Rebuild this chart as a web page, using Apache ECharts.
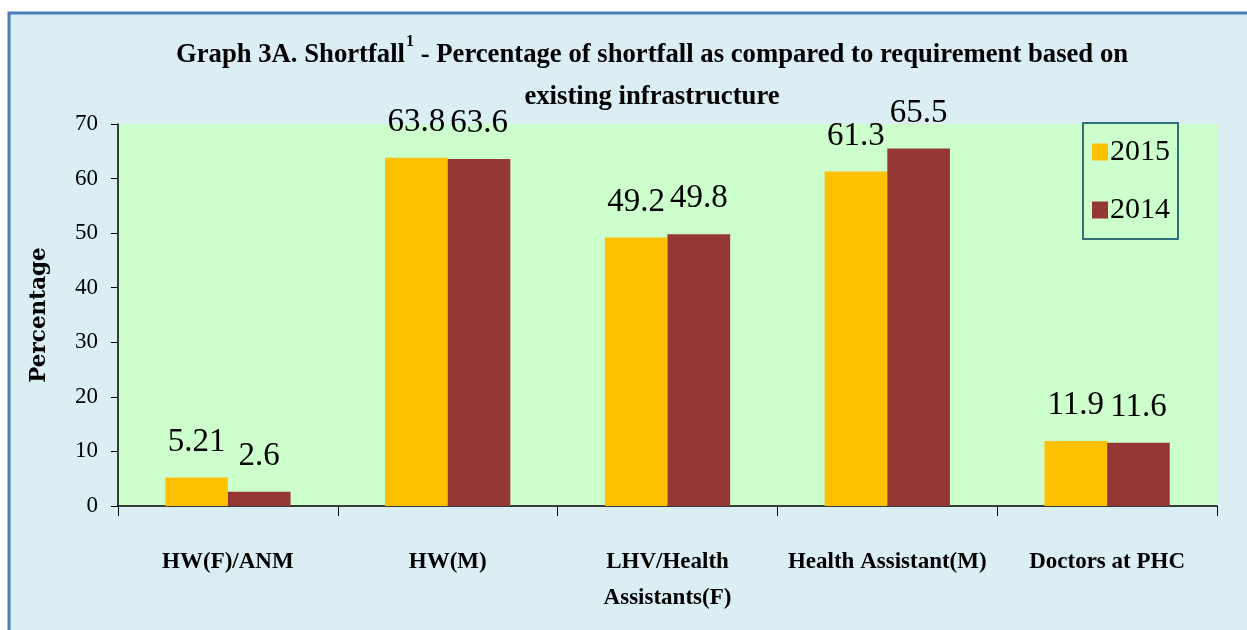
<!DOCTYPE html>
<html>
<head>
<meta charset="utf-8">
<script src="https://cdn.jsdelivr.net/npm/echarts@6/dist/echarts.min.js"></script>
<style>
html,body{margin:0;padding:0;background:#ffffff;}
#chart{width:1247px;height:630px;}
</style>
</head>
<body>
<div id="chart"></div>
<script>
var categories = ['HW(F)/ANM', 'HW(M)', 'LHV/Health\nAssistants(F)', 'Health Assistant(M)', 'Doctors at PHC'];
var values2015 = [5.21, 63.8, 49.2, 61.3, 11.9];
var values2014 = [2.6, 63.6, 49.8, 65.5, 11.6];
var yTicks = {min: 0, max: 70, interval: 10};
var seriesNames = ['2015', '2014'];

var chart = echarts.init(document.getElementById('chart'), null, {renderer: 'canvas'});
var serif = '"Liberation Serif", "Times New Roman", serif';

var labelStyle = {
  show: true,
  position: 'top',
  distance: 19,
  color: '#000',
  fontFamily: serif,
  fontSize: 33
};

chart.setOption({
  backgroundColor: '#ffffff',
  graphic: [{
    type: 'rect',
    z: -10,
    shape: {x: 9, y: 13, width: 1260, height: 640},
    style: {fill: '#DBEEF4', stroke: '#4A7EBB', lineWidth: 3}
  }],
  title: {
    left: 647,
    top: 29,
    textAlign: 'center',
    text: '{t|Graph 3A. Shortfall}{s|1}{t| - Percentage of shortfall as compared to requirement based on}\n{t|existing infrastructure}',
    textStyle: {
      rich: {
        t: {fontFamily: serif, fontWeight: 'bold', fontSize: 26.7, color: '#000', lineHeight: 42},
        s: {fontFamily: serif, fontWeight: 'bold', fontSize: 16, color: '#000', lineHeight: 42, verticalAlign: 'top', padding: [0, 0, 8, 1]}
      }
    }
  },
  legend: {
    orient: 'vertical',
    left: 1083,
    top: 123,
    data: seriesNames,
    backgroundColor: '#CCFFCC',
    borderColor: '#31707A',
    borderWidth: 2,
    borderRadius: 0,
    padding: [14, 8, 14, 9],
    itemGap: 28,
    itemWidth: 16,
    itemHeight: 17,
    icon: 'rect',
    textStyle: {fontFamily: serif, fontSize: 30, color: '#000', padding: [0, 0, 0, -3]}
  },
  grid: {
    left: 118,
    right: 30,
    top: 124,
    bottom: 124,
    show: true,
    backgroundColor: '#CCFFCC',
    borderWidth: 0
  },
  xAxis: {
    type: 'category',
    data: categories,
    axisLine: {lineStyle: {color: '#000', width: 1.5}},
    axisTick: {show: true, alignWithLabel: false, length: 10, lineStyle: {color: '#000'}},
    axisLabel: {
      margin: 38,
      interval: 0,
      color: '#000',
      fontFamily: serif,
      fontWeight: 'bold',
      fontSize: 23,
      lineHeight: 36
    }
  },
  yAxis: {
    type: 'value',
    min: yTicks.min,
    max: yTicks.max,
    interval: yTicks.interval,
    name: 'Percentage',
    nameLocation: 'middle',
    nameGap: 68,
    nameRotate: 90,
    nameTextStyle: {fontFamily: '"DejaVu Serif", serif', fontWeight: 'bold', fontSize: 21.5, color: '#000'},
    axisLine: {show: true, lineStyle: {color: '#000', width: 1.5}},
    axisTick: {show: true, length: 7, lineStyle: {color: '#000'}},
    splitLine: {show: false},
    axisLabel: {margin: 20, color: '#000', fontFamily: serif, fontSize: 23}
  },
  series: [{
    name: seriesNames[0],
    type: 'bar',
    data: values2015,
    barGap: '0%',
    barCategoryGap: '43%',
    itemStyle: {color: '#FFC000'},
    label: labelStyle
  }, {
    name: seriesNames[1],
    type: 'bar',
    data: values2014,
    barGap: '0%',
    barCategoryGap: '43%',
    itemStyle: {color: '#953735'},
    label: labelStyle
  }]
});
</script>
</body>
</html>
